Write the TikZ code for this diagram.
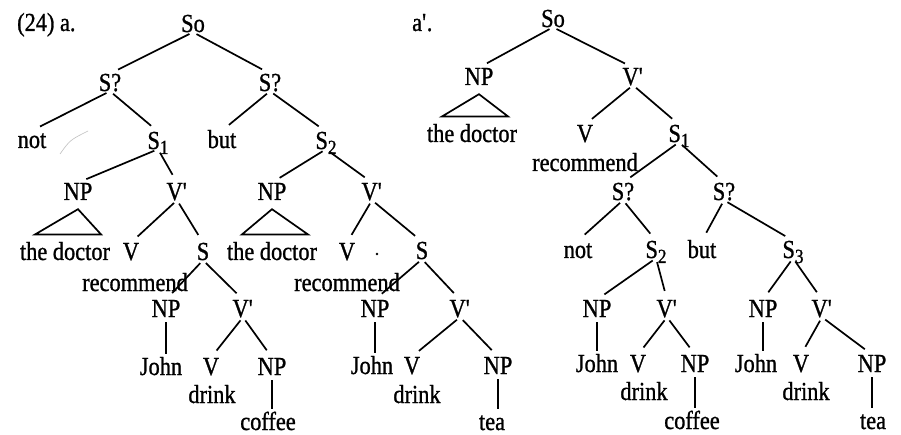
\documentclass[tikz,border=0pt]{standalone}
\usepackage{fontspec}
\setmainfont{Liberation Serif}[FakeStretch=0.86,FakeBold=1.0]
\usetikzlibrary{calc}
\newcommand\ssub[1]{\raisebox{-5pt}{\fontsize{20pt}{20pt}\selectfont #1}}
\newcommand\pr{\textquotesingle}
\newcommand\tedge[2]{\draw[lnk] (#1.south) -- (#2.north);}
\newcommand\vedge[2]{\draw[vlnk] ($(#1.south)+(0,5)$) -- ($(#1.south |- #2.north)+(0,-4)$);}
\newcommand\tri[2]{\draw[vlnk, line join=miter] ($(#1.south)+(0,9)$) -- ($(#2.north west)+(15,-8)$) -- ($(#2.north east)+(-9,-8)$) -- cycle;}
\begin{document}
\begin{tikzpicture}[x=1pt,y=-1pt,
  every node/.style={font=\fontsize{26pt}{30pt}\selectfont},
  tx/.style={inner sep=0pt, text height=17.2pt, text depth=0pt, anchor=base},
  lnk/.style={line width=1.7pt, shorten <=4pt, shorten >=9pt},
  vlnk/.style={line width=1.7pt}]
\useasboundingbox (0,0) rectangle (901,435);
\fill[white] (0,0) rectangle (901,435);
% ---------------- tree a ----------------
\node[tx, anchor=base west] (lab1) at (17,31) {(24) a.};
\node[tx] (L0) at (193,32) {So};
\node[tx] (L1a) at (110,91) {S?};
\node[tx] (L1b) at (270,91) {S?};
\node[tx] (L2a) at (32,148) {not};
\node[tx] (L2b) at (158,149) {S\ssub{1}};
\node[tx] (L2c) at (222,148) {but};
\node[tx] (L2d) at (326,149) {S\ssub{2}};
\node[tx] (L3a) at (78,200) {NP};
\node[tx] (L3b) at (177,200) {V\pr};
\node[tx] (L3c) at (272,200) {NP};
\node[tx] (L3d) at (372,200) {V\pr};
\node[tx] (L4a) at (65,260) {the doctor};
\node[tx] (L4b) at (131,260) {V};
\node[tx] (L4c) at (203,260) {S};
\node[tx] (L4d) at (272,260) {the doctor};
\node[tx] (L4e) at (347,260) {V};
\node[tx] (L4f) at (422,259) {S};
\node[tx] (L5a) at (135,291) {recommend};
\node[tx] (L5b) at (347,291) {recommend};
\node[tx] (L6a) at (166,317) {NP};
\node[tx] (L6b) at (243,317) {V\pr};
\node[tx] (L6c) at (375,317) {NP};
\node[tx] (L6d) at (460,317) {V\pr};
\node[tx] (L7a) at (161,375) {John};
\node[tx] (L7b) at (211,375) {V};
\node[tx] (L7c) at (272,375) {NP};
\node[tx] (L7d) at (372,374) {John};
\node[tx] (L7e) at (412,374) {V};
\node[tx] (L7f) at (498,374) {NP};
\node[tx] (L8a) at (212,403) {drink};
\node[tx] (L8b) at (417,403) {drink};
\node[tx] (L9a) at (268,430) {coffee};
\node[tx] (L9b) at (492,430) {tea};
\tedge{L0}{L1a}\tedge{L0}{L1b}
\tedge{L1a}{L2a}\tedge{L1a}{L2b}
\tedge{L1b}{L2c}\tedge{L1b}{L2d}
\tedge{L2b}{L3a}\tedge{L2b}{L3b}
\tedge{L2d}{L3c}\tedge{L2d}{L3d}
\tri{L3a}{L4a}\tri{L3c}{L4d}
\tedge{L3b}{L4b}\tedge{L3b}{L4c}
\tedge{L3d}{L4e}\tedge{L3d}{L4f}
\tedge{L4c}{L6a}\tedge{L4c}{L6b}
\tedge{L4f}{L6c}\tedge{L4f}{L6d}
\vedge{L6a}{L7a}\vedge{L6c}{L7d}
\tedge{L6b}{L7b}\tedge{L6b}{L7c}
\tedge{L6d}{L7e}\tedge{L6d}{L7f}
\vedge{L7c}{L9a}\vedge{L7f}{L9b}
\draw[gray!50, line width=0.6pt] (60,154) .. controls (70,140) .. (88,131);
\fill (377,254) circle (1.3pt);
% ---------------- tree a' ----------------
\node[tx, anchor=base west] (lab2) at (412,31) {a\pr.};
\node[tx] (R0) at (553,27) {So};
\node[tx] (R1a) at (479,85) {NP};
\node[tx] (R1b) at (633,85) {V\pr};
\node[tx] (R2a) at (472,142) {the doctor};
\node[tx] (R2b) at (585,142) {V};
\node[tx] (R2c) at (679,142) {S\ssub{1}};
\node[tx] (R3) at (585,171) {recommend};
\node[tx] (R4a) at (623,200) {S?};
\node[tx] (R4b) at (724,200) {S?};
\node[tx] (R5a) at (578,258) {not};
\node[tx] (R5b) at (656,258) {S\ssub{2}};
\node[tx] (R5c) at (702,258) {but};
\node[tx] (R5d) at (793,258) {S\ssub{3}};
\node[tx] (R6a) at (597,317) {NP};
\node[tx] (R6b) at (667,317) {V\pr};
\node[tx] (R6c) at (763,317) {NP};
\node[tx] (R6d) at (822,317) {V\pr};
\node[tx] (R7a) at (597,372) {John};
\node[tx] (R7b) at (638,372) {V};
\node[tx] (R7c) at (695,372) {NP};
\node[tx] (R7d) at (756,372) {John};
\node[tx] (R7e) at (801,372) {V};
\node[tx] (R7f) at (872,372) {NP};
\node[tx] (R8a) at (644,400) {drink};
\node[tx] (R8b) at (806,400) {drink};
\node[tx] (R9a) at (692,429) {coffee};
\node[tx] (R9b) at (873,429) {tea};
\tedge{R0}{R1a}\tedge{R0}{R1b}
\tri{R1a}{R2a}
\tedge{R1b}{R2b}\tedge{R1b}{R2c}
\tedge{R2c}{R4a}\tedge{R2c}{R4b}
\tedge{R4a}{R5a}\tedge{R4a}{R5b}
\tedge{R4b}{R5c}\tedge{R4b}{R5d}
\tedge{R5b}{R6a}\tedge{R5b}{R6b}
\tedge{R5d}{R6c}\tedge{R5d}{R6d}
\vedge{R6a}{R7a}\vedge{R6c}{R7d}
\tedge{R6b}{R7b}\tedge{R6b}{R7c}
\tedge{R6d}{R7e}\tedge{R6d}{R7f}
\vedge{R7c}{R9a}\vedge{R7f}{R9b}
\end{tikzpicture}
\end{document}
